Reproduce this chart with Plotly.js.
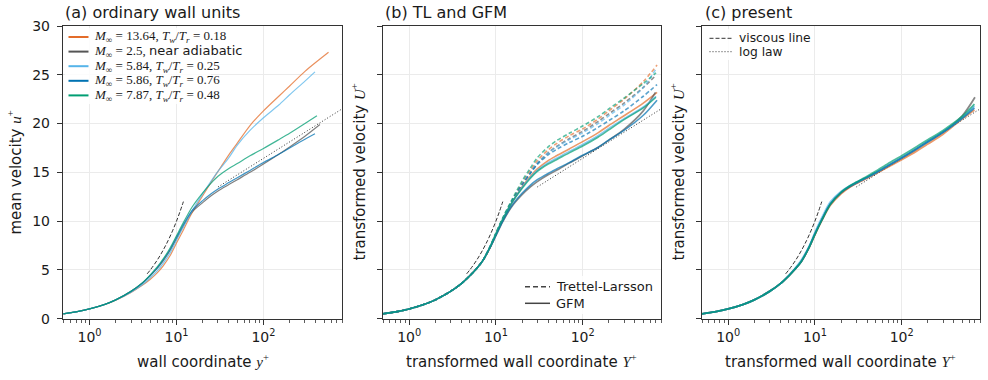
<!DOCTYPE html>
<html>
<head>
<meta charset="utf-8">
<script src="https://cdn.plot.ly/plotly-3.0.1.min.js"></script>
<style>
  html, body { margin: 0; padding: 0; background: #ffffff; }
  #chart { width: 988px; height: 380px; }
</style>
</head>
<body>
<div id="chart"></div>
<script>
// ---- cases -------------------------------------------------------------
const caseColors = ['#E36C2A', '#555555', '#56B4E9', '#0072B2', '#009E73'];
const caseLabels = [
  '<i>M</i><sub>∞</sub> = 13.64, <i>T</i><sub><i>w</i></sub>/<i>T</i><sub><i>r</i></sub> = 0.18',
  '<i>M</i><sub>∞</sub> = 2.5, <span style="font-family:DejaVu Sans">near adiabatic</span>',
  '<i>M</i><sub>∞</sub> = 5.84, <i>T</i><sub><i>w</i></sub>/<i>T</i><sub><i>r</i></sub> = 0.25',
  '<i>M</i><sub>∞</sub> = 5.86, <i>T</i><sub><i>w</i></sub>/<i>T</i><sub><i>r</i></sub> = 0.76',
  '<i>M</i><sub>∞</sub> = 7.87, <i>T</i><sub><i>w</i></sub>/<i>T</i><sub><i>r</i></sub> = 0.48'
];

// ---- (a) ordinary wall units: u+ against y+ ----------------------------
const yPlusA = [0.5, 0.7, 1, 1.5, 2, 3, 4, 5, 6, 7, 8.5, 10, 12, 15, 20, 25, 30, 40, 50, 70, 100, 150, 200, 300];
const uA_M1364 = [0.5, 0.7, 1.0, 1.45, 1.9, 2.7, 3.4, 4.05, 4.7, 5.4, 6.5, 7.75, 9.1, 10.8, 12.6, 14.0, 15.1, 16.8, 18.0, 19.8, 21.3, 22.8, 23.85, 25.35];
const uA_M250  = [0.5, 0.7, 1.0, 1.47, 1.93, 2.8, 3.6, 4.4, 5.15, 5.9, 7.05, 8.2, 9.5, 10.9, 11.9, 12.6, 13.1, 13.75, 14.25, 15.0, 15.85, 16.85, 17.6, 18.7];
const uA_M584  = [0.5, 0.7, 1.0, 1.46, 1.91, 2.72, 3.45, 4.2, 4.9, 5.65, 6.8, 8.05, 9.4, 11.0, 12.8, 14.1, 15.1, 16.5, 17.8, 19.3, 20.6, 21.9, 22.95, 24.35];
const uA_M586  = [0.5, 0.7, 1.0, 1.47, 1.93, 2.8, 3.6, 4.45, 5.2, 6.0, 7.15, 8.35, 9.65, 11.05, 12.1, 12.8, 13.3, 13.95, 14.45, 15.2, 16.0, 16.85, 17.5, 18.4];
const uA_M787  = [0.5, 0.7, 1.0, 1.47, 1.93, 2.82, 3.65, 4.5, 5.3, 6.1, 7.3, 8.5, 9.85, 11.4, 12.9, 13.9, 14.6, 15.4, 15.9, 16.7, 17.45, 18.35, 19.0, 20.0];
const yPlusEndA = [560, 446, 391, 391, 412];
const uEndA     = [27.3, 19.9, 25.3, 18.95, 20.8];

// ---- (b) Trettel-Larsson (dashed) and GFM (solid): U+ against Y+ -------
const yPlusB = [0.5, 0.7, 1, 1.5, 2, 3, 4, 5, 6, 7, 8.5, 10, 12, 15, 20, 25, 30, 40, 50, 70, 100, 150, 200, 300, 500];
const uTL_M1364 = [0.5, 0.7, 1.0, 1.47, 1.93, 2.8, 3.6, 4.4, 5.15, 5.9, 7.3, 8.7, 10.25, 11.95, 13.9, 15.2, 16.2, 17.3, 17.95, 18.75, 19.45, 20.45, 21.3, 22.5, 24.3];
const uTL_M250  = [0.5, 0.7, 1.0, 1.47, 1.93, 2.8, 3.6, 4.4, 5.15, 5.9, 7.25, 8.65, 10.2, 11.85, 13.7, 14.95, 15.9, 17.0, 17.65, 18.45, 19.2, 20.2, 21.0, 22.1, 23.7];
const uTL_M584  = [0.5, 0.7, 1.0, 1.47, 1.93, 2.8, 3.6, 4.4, 5.15, 5.9, 7.3, 8.7, 10.25, 11.9, 13.8, 15.0, 15.95, 17.0, 17.6, 18.35, 19.05, 20.0, 20.8, 21.9, 23.7];
const uTL_M586  = [0.5, 0.7, 1.0, 1.47, 1.93, 2.8, 3.6, 4.4, 5.15, 5.9, 7.3, 8.7, 10.25, 11.9, 13.7, 14.9, 15.8, 16.8, 17.35, 18.05, 18.7, 19.6, 20.3, 21.3, 22.8];
const uTL_M787  = [0.5, 0.7, 1.0, 1.47, 1.93, 2.8, 3.6, 4.4, 5.15, 5.9, 7.35, 8.8, 10.35, 12.05, 14.1, 15.45, 16.5, 17.6, 18.25, 19.0, 19.75, 20.7, 21.5, 22.6, 24.1];
const uGFM_M1364 = [0.5, 0.7, 1.0, 1.47, 1.93, 2.8, 3.6, 4.4, 5.15, 5.9, 7.25, 8.65, 10.15, 11.75, 13.5, 14.6, 15.35, 16.2, 16.7, 17.4, 18.15, 19.05, 19.8, 20.8, 22.1];
const uGFM_M250  = [0.5, 0.7, 1.0, 1.47, 1.93, 2.8, 3.6, 4.4, 5.15, 5.9, 7.2, 8.5, 9.95, 11.4, 12.7, 13.5, 14.05, 14.75, 15.2, 15.95, 16.7, 17.55, 18.3, 19.4, 21.3];
const uGFM_M584  = [0.5, 0.7, 1.0, 1.47, 1.93, 2.8, 3.6, 4.4, 5.15, 5.9, 7.3, 8.7, 10.2, 11.8, 13.45, 14.5, 15.2, 16.0, 16.45, 17.15, 17.85, 18.75, 19.5, 20.5, 21.7];
const uGFM_M586  = [0.5, 0.7, 1.0, 1.47, 1.93, 2.8, 3.6, 4.4, 5.15, 5.9, 7.25, 8.55, 10.0, 11.5, 12.85, 13.7, 14.25, 14.9, 15.35, 16.0, 16.75, 17.55, 18.3, 19.3, 20.85];
const uGFM_M787  = [0.5, 0.7, 1.0, 1.47, 1.93, 2.8, 3.6, 4.4, 5.15, 5.9, 7.3, 8.7, 10.2, 11.8, 13.35, 14.4, 15.1, 15.85, 16.3, 17.0, 17.7, 18.6, 19.35, 20.4, 21.6];
const yPlusEndB = [720, 690, 700, 720, 700];
const uEndTL    = [26.0, 24.9, 25.6, 24.0, 25.2];
const uEndGFM   = [23.2, 23.2, 22.8, 22.4, 22.7];

// ---- (c) present transformation: U+ against Y+ -------------------------
const yPlusC = [0.5, 0.7, 1, 1.5, 2, 3, 4, 5, 6, 7, 8.5, 10, 12, 15, 20, 25, 30, 40, 50, 70, 100, 150, 200, 300, 500];
const uC_M1364 = [0.5, 0.7, 1.0, 1.47, 1.93, 2.8, 3.6, 4.4, 5.15, 5.9, 7.2, 8.6, 10.05, 11.6, 12.8, 13.45, 13.85, 14.4, 14.85, 15.55, 16.3, 17.2, 17.9, 18.9, 20.5];
const uC_M250  = [0.5, 0.7, 1.0, 1.47, 1.93, 2.8, 3.6, 4.4, 5.15, 5.9, 7.25, 8.65, 10.1, 11.7, 12.9, 13.5, 13.9, 14.45, 14.9, 15.65, 16.45, 17.4, 18.1, 19.1, 20.8];
const uC_M584  = [0.5, 0.7, 1.0, 1.47, 1.93, 2.8, 3.6, 4.45, 5.25, 6.05, 7.35, 8.85, 10.35, 11.95, 13.05, 13.6, 13.95, 14.5, 14.95, 15.7, 16.5, 17.45, 18.15, 19.15, 20.6];
const uC_M586  = [0.5, 0.7, 1.0, 1.47, 1.93, 2.8, 3.6, 4.4, 5.15, 5.9, 7.25, 8.7, 10.15, 11.75, 12.95, 13.55, 13.95, 14.5, 14.95, 15.7, 16.5, 17.45, 18.15, 19.1, 20.55];
const uC_M787  = [0.5, 0.7, 1.0, 1.47, 1.93, 2.8, 3.6, 4.4, 5.15, 5.9, 7.25, 8.65, 10.1, 11.7, 12.95, 13.6, 14.0, 14.6, 15.1, 15.9, 16.7, 17.65, 18.35, 19.3, 20.75];
const yPlusEndC = [690, 700, 690, 690, 690];
const uEndC     = [21.4, 22.7, 21.8, 21.6, 22.0];

// ---- reference laws ----------------------------------------------------
const viscousX = [4.6, 5, 6, 7, 8, 9, 10, 11, 12];
const viscousU = [4.6, 5, 6, 7, 8, 9, 10, 11, 12];
const logLawX  = [30, 800];
const logLawU  = [13.5, 21.5];

// ---- axis ticks ----------------------------------------------------------
const majorTickVals = [1, 10, 100];
const majorTickText = ['10<sup>0</sup>', '10<sup>1</sup>', '10<sup>2</sup>'];

// ------------------------------------------------------------------------
const W = 988, H = 380;
const px = p => p / W;           // pixel column -> paper x
const py = p => 1 - p / H;       // pixel row    -> paper y

const uA  = [uA_M1364, uA_M250, uA_M584, uA_M586, uA_M787];
const uTL = [uTL_M1364, uTL_M250, uTL_M584, uTL_M586, uTL_M787];
const uGF = [uGFM_M1364, uGFM_M250, uGFM_M584, uGFM_M586, uGFM_M787];
const uC  = [uC_M1364, uC_M250, uC_M584, uC_M586, uC_M787];

const traces = [];
function curve(x, y, xa, ya, color, width, dash, opacity) {
  traces.push({
    type: 'scatter', mode: 'lines', x: x, y: y, xaxis: xa, yaxis: ya,
    line: { color: color, width: width, dash: dash || 'solid', shape: 'spline', smoothing: 0.8 },
    opacity: opacity, hoverinfo: 'skip', showlegend: false
  });
}

// reference laws sit underneath the profiles
[['x', 'y'], ['x2', 'y2'], ['x3', 'y3']].forEach(([xa, ya]) => {
  traces.push({ type: 'scatter', mode: 'lines', x: viscousX, y: viscousU, xaxis: xa, yaxis: ya,
    line: { color: '#333333', width: 1, dash: '4px,2px', shape: 'spline' }, hoverinfo: 'skip', showlegend: false });
  traces.push({ type: 'scatter', mode: 'lines', x: logLawX, y: logLawU, xaxis: xa, yaxis: ya,
    line: { color: '#333333', width: 1, dash: '1px,2px' }, hoverinfo: 'skip', showlegend: false });
});

for (let i = 0; i < 5; i++) {
  curve(yPlusA.concat([yPlusEndA[i]]), uA[i].concat([uEndA[i]]), 'x', 'y', caseColors[i], 1.2, 'solid', 0.75);
}
for (let i = 0; i < 5; i++) {
  curve(yPlusB.concat([yPlusEndB[i]]), uTL[i].concat([uEndTL[i]]), 'x2', 'y2', caseColors[i], 1.6, '4px,2.5px', 0.65);
}
for (let i = 0; i < 5; i++) {
  curve(yPlusB.concat([yPlusEndB[i]]), uGF[i].concat([uEndGFM[i]]), 'x2', 'y2', caseColors[i], 1.6, 'solid', 0.7);
}
for (let i = 0; i < 5; i++) {
  curve(yPlusC.concat([yPlusEndC[i]]), uC[i].concat([uEndC[i]]), 'x3', 'y3', caseColors[i], 1.8, 'solid', 0.7);
}

// minor tick positions on the log axes
const minorTickVals = [];
[0.1, 1, 10, 100].forEach(d => { for (let k = 2; k <= 9; k++) { const v = k * d; if (v >= 0.49 && v <= 801) minorTickVals.push(v); } });

const tickFont = { family: 'DejaVu Sans', size: 14, color: '#1a1a1a' };
function xAxis(domain, anchor) {
  return {
    domain: domain, anchor: anchor, type: 'log', range: [-0.305, 2.903],
    tickmode: 'array', tickvals: majorTickVals, ticktext: majorTickText,
    ticks: 'outside', ticklen: 5, tickwidth: 1, tickcolor: '#333',
    showline: true, linecolor: '#333', linewidth: 1.2, mirror: true,
    showgrid: true, gridcolor: '#ebebeb', gridwidth: 1, zeroline: false,
    tickfont: tickFont, fixedrange: true,
    minor: { tickmode: 'array', tickvals: minorTickVals, ticks: 'outside', ticklen: 3, tickwidth: 0.8, tickcolor: '#333', showgrid: false }
  };
}
function yAxis(anchor, labels) {
  return {
    domain: [py(318.7), py(26)], anchor: anchor, range: [0, 30],
    tickmode: 'linear', tick0: 0, dtick: 5,
    ticks: 'outside', ticklen: 5, tickwidth: 1, tickcolor: '#333',
    showticklabels: labels, ticklabelstandoff: 4,
    showline: true, linecolor: '#333', linewidth: 1.2, mirror: true,
    showgrid: true, gridcolor: '#ebebeb', gridwidth: 1, zeroline: false,
    tickfont: tickFont, fixedrange: true
  };
}

const serif = 'Liberation Serif';
const annotations = [];
function text(t, x, y, opts) {
  annotations.push(Object.assign({
    text: t, x: px(x), y: py(y), xref: 'paper', yref: 'paper', showarrow: false,
    xanchor: 'left', yanchor: 'middle', font: { family: 'DejaVu Sans', size: 15, color: '#1a1a1a' }
  }, opts || {}));
}
// panel titles
text('(a) ordinary wall units', 62.5, 12.5, { font: { family: 'DejaVu Sans', size: 16, color: '#1a1a1a' } });
text('(b) TL and GFM', 382.5, 12.5, { font: { family: 'DejaVu Sans', size: 16, color: '#1a1a1a' } });
text('(c) present', 702.5, 12.5, { font: { family: 'DejaVu Sans', size: 16, color: '#1a1a1a' } });
// axis titles
const mathY = s => '<span style="font-family:' + serif + '"><i>' + s + '</i><sup>+</sup></span>';
text('wall coordinate ' + mathY('y'), 202.5, 361, { xanchor: 'center' });
text('transformed wall coordinate ' + mathY('Y'), 521.9, 361, { xanchor: 'center' });
text('transformed wall coordinate ' + mathY('Y'), 840.9, 361, { xanchor: 'center' });
text('mean velocity ' + mathY('u'), 15, 172.5, { xanchor: 'center', textangle: -90 });
text('transformed velocity ' + mathY('U'), 359, 172.5, { xanchor: 'center', textangle: -90 });
text('transformed velocity ' + mathY('U'), 678, 172.5, { xanchor: 'center', textangle: -90 });

// legends
const shapes = [];
function box(x0, y0, x1, y1) {
  shapes.push({ type: 'rect', xref: 'paper', yref: 'paper', x0: px(x0), x1: px(x1), y0: py(y1), y1: py(y0),
    fillcolor: 'rgba(255,255,255,0.85)', line: { width: 0 }, layer: 'above' });
}
function sample(x0, x1, y, color, width, dash) {
  shapes.push({ type: 'line', xref: 'paper', yref: 'paper', x0: px(x0), x1: px(x1), y0: py(y), y1: py(y),
    line: { color: color, width: width, dash: dash || 'solid' }, layer: 'above' });
}
box(65, 28, 211, 104);
for (let i = 0; i < 5; i++) {
  const yy = 37 + i * 14.6;
  sample(68.5, 88.5, yy, caseColors[i], 2);
  text(caseLabels[i], 92, yy, { font: { family: serif, size: 13, color: '#1a1a1a' } });
}
box(520, 276, 657, 314);
sample(525, 550, 286.7, '#444444', 1.5, '5px,3px');
text('Trettel-Larsson', 554, 286.7, { font: { family: 'DejaVu Sans', size: 13, color: '#1a1a1a' } });
sample(525, 550, 303.3, '#444444', 1.5);
text('GFM', 554, 303.3, { font: { family: 'DejaVu Sans', size: 13, color: '#1a1a1a' } });

box(704, 29, 812, 60);
sample(709.5, 731.5, 38.3, '#333333', 1, '4px,2px');
text('viscous line', 736.5, 38.3, { font: { family: 'DejaVu Sans', size: 12.3, color: '#1a1a1a' } });
sample(709.5, 731.5, 51.7, '#333333', 1, '1px,2px');
text('log law', 736.5, 51.7, { font: { family: 'DejaVu Sans', size: 12.3, color: '#1a1a1a' } });

const layout = {
  width: W, height: H,
  margin: { l: 0, r: 0, t: 0, b: 0 },
  paper_bgcolor: '#ffffff', plot_bgcolor: '#ffffff',
  showlegend: false,
  xaxis:  xAxis([px(63), px(342)], 'y'),
  xaxis2: xAxis([px(382.7), px(661)], 'y2'),
  xaxis3: xAxis([px(701.7), px(980)], 'y3'),
  yaxis:  yAxis('x', true),
  yaxis2: yAxis('x2', false),
  yaxis3: yAxis('x3', false),
  annotations: annotations,
  shapes: shapes,
  font: { family: 'DejaVu Sans', color: '#1a1a1a' }
};

Plotly.newPlot('chart', traces, layout, { staticPlot: true, displayModeBar: false });
</script>
</body>
</html>
